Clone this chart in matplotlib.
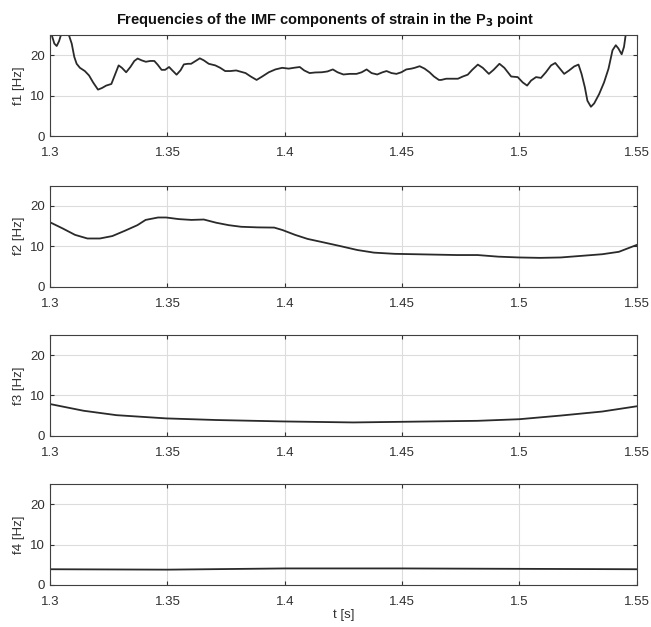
import numpy as np
import matplotlib
matplotlib.use('Agg')
import matplotlib.pyplot as plt

plt.rcParams['font.family'] = ['Liberation Sans', 'DejaVu Sans']

# IMF 1 frequency (values above 25 run off the top of the axes)
t1 = [1.3, 1.3007, 1.3018, 1.3028, 1.3038, 1.3046, 1.306, 1.308, 1.3092, 1.3103,
      1.3113, 1.3127, 1.3148, 1.3166, 1.3183, 1.3204, 1.3221, 1.3239, 1.3261, 1.3275,
      1.3292, 1.3306, 1.3324, 1.3342, 1.3359, 1.3373, 1.339, 1.3408, 1.3427, 1.3444,
      1.3458, 1.3475, 1.349, 1.3507, 1.3521, 1.3539, 1.3556, 1.357, 1.3587, 1.3601,
      1.362, 1.3638, 1.3655, 1.3676, 1.3704, 1.3725, 1.3746, 1.3768, 1.3793, 1.3821,
      1.3833, 1.3855, 1.388, 1.3904, 1.3932, 1.396, 1.3989, 1.4017, 1.4038, 1.4064,
      1.4083, 1.4106, 1.413, 1.4158, 1.4182, 1.4205, 1.4225, 1.425, 1.4278, 1.4306,
      1.4328, 1.4349, 1.437, 1.4394, 1.4417, 1.4434, 1.4455, 1.4476, 1.4497, 1.4518,
      1.454, 1.4554, 1.4575, 1.4596, 1.4617, 1.4636, 1.4657, 1.4667, 1.4688, 1.4717,
      1.4738, 1.4759, 1.478, 1.4799, 1.4823, 1.4844, 1.487, 1.489, 1.4915, 1.4936,
      1.4965, 1.4993, 1.5014, 1.5033, 1.505, 1.5071, 1.5092, 1.5113, 1.5135, 1.5153,
      1.517, 1.5191, 1.5212, 1.5234, 1.5252, 1.5265, 1.5279, 1.529, 1.5305, 1.5319,
      1.534, 1.5361, 1.538, 1.5397, 1.5411, 1.5422, 1.5436, 1.5446, 1.5453, 1.547]
f1 = [26.0, 25.0, 22.9, 22.3, 23.5, 25.0, 27.0, 25.0, 22.9, 19.6,
      17.9, 16.9, 16.1, 15.0, 13.3, 11.5, 11.9, 12.5, 12.9, 15.0,
      17.5, 16.9, 15.8, 17.1, 18.6, 19.2, 18.75, 18.4, 18.6, 18.6,
      17.7, 16.4, 16.4, 17.1, 16.25, 15.2, 16.3, 17.75, 17.9, 17.9,
      18.6, 19.25, 18.75, 17.9, 17.5, 16.9, 16.1, 16.1, 16.25, 15.8,
      15.6, 14.75, 13.9, 14.75, 15.8, 16.5, 16.9, 16.7, 16.9, 17.1,
      16.25, 15.6, 15.75, 15.8, 16.0, 16.5, 15.8, 15.25, 15.4, 15.4,
      15.8, 16.5, 15.6, 15.25, 15.8, 16.1, 15.6, 15.4, 15.8, 16.5,
      16.7, 16.9, 17.3, 16.7, 15.8, 14.75, 13.9, 13.9, 14.2, 14.2,
      14.2, 14.75, 15.2, 16.4, 17.7, 16.9, 15.4, 16.4, 17.9, 16.9,
      14.75, 14.6, 13.3, 12.5, 13.75, 14.6, 14.4, 15.8, 17.5, 18.1,
      16.9, 15.4, 16.25, 17.25, 17.7, 15.4, 12.1, 8.75, 7.25, 8.1,
      10.4, 13.3, 16.7, 21.25, 22.5, 21.7, 20.25, 22.1, 25.0, 29.0]

# IMF 2 frequency
t2 = [1.3, 1.3053, 1.3106, 1.3159, 1.3212, 1.3265, 1.3318, 1.3372, 1.3407, 1.346,
      1.3495, 1.3548, 1.3602, 1.3655, 1.3708, 1.3761, 1.3814, 1.3885, 1.3955, 1.399,
      1.4044, 1.4097, 1.4168, 1.4238, 1.4309, 1.438, 1.4468, 1.4557, 1.4645, 1.4734,
      1.4822, 1.491, 1.4999, 1.5088, 1.5176, 1.5265, 1.5353, 1.5424, 1.55]
f2 = [15.9, 14.4, 12.8, 11.9, 11.9, 12.5, 13.8, 15.2, 16.5, 17.1,
      17.1, 16.7, 16.5, 16.6, 15.8, 15.2, 14.8, 14.65, 14.6, 14.0,
      12.8, 11.8, 10.9, 10.0, 9.05, 8.4, 8.1, 8.0, 7.9, 7.8,
      7.8, 7.4, 7.2, 7.1, 7.2, 7.6, 8.0, 8.6, 10.3]

# IMF 3 frequency
t3 = [1.3, 1.3142, 1.3283, 1.3495, 1.3708, 1.3991, 1.4292, 1.4557, 1.4822, 1.5,
      1.5176, 1.5353, 1.55]
f3 = [7.85, 6.2, 5.1, 4.3, 3.9, 3.55, 3.3, 3.5, 3.7, 4.1, 5.0, 6.0, 7.3]

# IMF 4 frequency
t4 = [1.3, 1.35, 1.4, 1.45, 1.5, 1.55]
f4 = [3.9, 3.8, 4.1, 4.1, 4.0, 3.9]

series = [(t1, f1, 'f1 [Hz]'), (t2, f2, 'f2 [Hz]'),
          (t3, f3, 'f3 [Hz]'), (t4, f4, 'f4 [Hz]')]
xticks = [1.3, 1.35, 1.4, 1.45, 1.5, 1.55]
xticklabels = ['1.3', '1.35', '1.4', '1.45', '1.5', '1.55']
yticks = [0, 10, 20]

fig = plt.figure(figsize=(6.51, 6.27), dpi=100)
bottoms = [0.783, 0.543, 0.305, 0.067]
for (t, f, lab), b in zip(series, bottoms):
    ax = fig.add_axes([0.077, b, 0.901, 0.161])
    ax.plot(t, f, color='#2a2a2a', lw=1.3)
    ax.set_xlim(1.3, 1.55)
    ax.set_ylim(0, 25)
    ax.set_xticks(xticks)
    ax.set_xticklabels(xticklabels)
    ax.set_yticks(yticks)
    ax.grid(True, color='#dcdcdc', lw=0.8)
    ax.tick_params(direction='in', top=True, right=True, length=3,
                   labelsize=9.5, colors='#303030', width=0.8)
    ax.tick_params(axis='x', pad=8)
    for s in ax.spines.values():
        s.set_color('#404040')
        s.set_linewidth(0.8)
    ax.set_ylabel(lab, fontsize=9.5, color='#303030', labelpad=4)
    if lab.startswith('f4'):
        ax.set_xlabel('t [s]', fontsize=9.5, color='#303030', labelpad=1)

fig.text(0.5, 0.968, 'Frequencies of the IMF components of strain in the P$_{\\mathbf{3}}$ point',
         ha='center', va='center', fontsize=10.5, fontweight='bold', color='#111111')

plt.savefig('out.png', dpi=100)
